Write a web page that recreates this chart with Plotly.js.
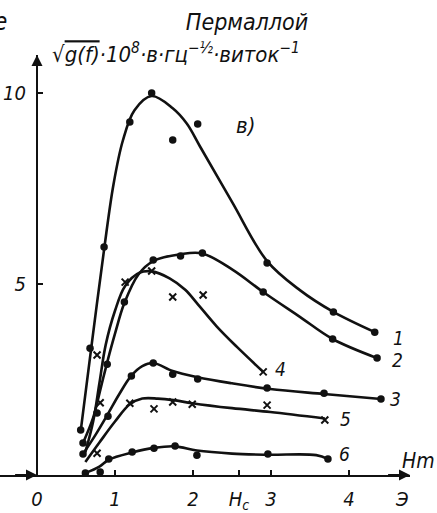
<!DOCTYPE html>
<html>
<head>
<meta charset="utf-8">
<script src="https://cdn.plot.ly/plotly-3.0.1.min.js"></script>
<style>html,body{margin:0;padding:0;background:#fff;}#chart{width:437px;height:513px;}</style>
</head>
<body>
<div id="chart"></div>
<script>
// ---- Data ----
// Fitted curves (smooth lines)
const curve1X = [0.56, 0.70, 0.86, 0.98, 1.1, 1.25, 1.47, 1.74, 1.92, 2.09, 2.5, 2.95, 3.37, 3.8, 4.33];
const curve1Y = [1.15, 3.4, 5.9, 7.6, 8.75, 9.55, 9.92, 9.6, 9.2, 8.6, 7.15, 5.6, 4.84, 4.27, 3.74];
const curve2X = [0.59, 0.72, 0.82, 0.90, 1.0, 1.12, 1.3, 1.49, 1.84, 2.12, 2.51, 2.9, 3.37, 3.79, 4.36];
const curve2Y = [0.84, 1.5, 2.3, 2.95, 3.7, 4.5, 5.25, 5.6, 5.78, 5.8, 5.37, 4.79, 4.14, 3.56, 3.06];
const curve3X = [0.59, 0.75, 0.91, 1.05, 1.21, 1.35, 1.49, 1.74, 2.06, 2.5, 2.99, 3.68, 4.41];
const curve3Y = [0.55, 1.05, 1.6, 2.1, 2.6, 2.85, 2.93, 2.72, 2.56, 2.4, 2.25, 2.12, 1.99];
const curve4X = [0.62, 0.72, 0.80, 0.88, 1.0, 1.13, 1.32, 1.47, 1.7, 1.9, 2.05, 2.3, 2.56, 2.9];
const curve4Y = [0.6, 1.4, 2.4, 3.4, 4.3, 4.95, 5.3, 5.33, 5.15, 4.85, 4.5, 3.9, 3.36, 2.7];
const curve5X = [0.62, 0.8, 1.0, 1.19, 1.35, 1.55, 1.75, 1.99, 2.5, 2.99, 3.69];
const curve5Y = [0.34, 0.85, 1.4, 1.85, 2.0, 2.0, 1.96, 1.88, 1.75, 1.65, 1.48];
const curve6X = [0.62, 0.8, 0.92, 1.22, 1.5, 1.77, 2.05, 2.5, 2.96, 3.58, 3.73];
const curve6Y = [0.05, 0.22, 0.4, 0.59, 0.71, 0.75, 0.64, 0.56, 0.53, 0.52, 0.42];

// Measured points
const pts1X = [0.56, 0.68, 0.86, 1.19, 1.47, 1.74, 2.06, 2.95, 3.80, 4.33];
const pts1Y = [1.18, 3.32, 5.97, 9.24, 10.0, 8.77, 9.19, 5.55, 4.27, 3.74];
const pts2X = [0.59, 0.77, 0.90, 1.12, 1.49, 1.84, 2.12, 2.90, 3.79, 4.36];
const pts2Y = [0.84, 1.62, 2.90, 4.53, 5.63, 5.73, 5.81, 4.79, 3.56, 3.06];
const pts3X = [0.59, 0.91, 1.21, 1.49, 1.74, 2.06, 2.95, 3.68, 4.41];
const pts3Y = [0.55, 1.54, 2.59, 2.93, 2.64, 2.51, 2.28, 2.14, 1.99];
const pts4X = [0.81, 0.77, 1.13, 1.47, 1.74, 2.13, 2.90];
const pts4Y = [1.89, 3.14, 5.05, 5.34, 4.66, 4.71, 2.70];
const pts5X = [0.77, 1.19, 1.50, 1.74, 1.99, 2.95, 3.69];
const pts5Y = [0.57, 1.88, 1.73, 1.91, 1.85, 1.83, 1.44];
const pts6X = [0.62, 0.81, 0.92, 1.22, 1.50, 1.77, 2.05, 2.96, 3.73];
const pts6Y = [0.05, 0.08, 0.42, 0.60, 0.70, 0.76, 0.52, 0.55, 0.42];

// Curve labels
const curveLabels = ["1", "2", "3", "4", "5", "6"];
const labelX = [4.63, 4.62, 4.60, 3.12, 3.95, 3.94];
const labelY = [3.58, 3.0, 1.99, 2.77, 1.47, 0.55];

// Axis ticks
const xTickVals = [0, 1, 2, 2.59, 3, 4];
const xTickText = ["0", "1", "2", "H<sub>c</sub>", "3", "4"];
const yTickVals = [5, 10];
const yTickText = ["5", "10"];

// ---- Chart ----
const FONT = "DejaVu Sans Condensed, DejaVu Sans, sans-serif";
const BLACK = "#111";
const lineStyle = {color: BLACK, width: 2.6, shape: "spline", smoothing: 1};
const dot = {symbol: "circle", size: 7.5, color: BLACK};
const cross = {symbol: "x-thin", size: 7, color: BLACK, line: {width: 2, color: BLACK}};

const curves = [[curve1X, curve1Y], [curve2X, curve2Y], [curve3X, curve3Y], [curve4X, curve4Y], [curve5X, curve5Y], [curve6X, curve6Y]];
const pts = [[pts1X, pts1Y, dot], [pts2X, pts2Y, dot], [pts3X, pts3Y, dot], [pts4X, pts4Y, cross], [pts5X, pts5Y, cross], [pts6X, pts6Y, dot]];

const traces = [];
curves.forEach(c => traces.push({x: c[0], y: c[1], mode: "lines", line: lineStyle, hoverinfo: "skip", cliponaxis: false}));
pts.forEach(p => traces.push({x: p[0], y: p[1], mode: "markers", marker: p[2], hoverinfo: "skip", cliponaxis: false}));

const plotW = 410, plotH = 420, originPx = 37;
const xMin = -originPx / 78, xMax = (plotW - originPx) / 78;
const yMax = (475 - 55) / 38.2;

const annotations = [];
curveLabels.forEach((t, i) => annotations.push({
  x: labelX[i], y: labelY[i], xref: "x", yref: "y", text: t, showarrow: false,
  font: {family: FONT, size: 19, color: BLACK, style: "italic"}
}));
annotations.push(
  {x: 2.67, y: 9.14, xref: "x", yref: "y", text: "в)", showarrow: false,
   font: {family: FONT, size: 22, color: BLACK, style: "italic"}},
  {x: 418 / plotW, y: (475 - 461) / plotH, xref: "paper", yref: "paper", xanchor: "center", yanchor: "middle",
   text: "Hm", showarrow: false, font: {family: FONT, size: 21, color: BLACK, style: "italic"}},
  {x: 402 / plotW, y: (475 - 499) / plotH, xref: "paper", yref: "paper", xanchor: "center", yanchor: "middle",
   text: "Э", showarrow: false, font: {family: FONT, size: 20, color: BLACK, style: "italic"}},
  {x: 50 / plotW, y: (475 - 53) / plotH, xref: "paper", yref: "paper", xanchor: "left", yanchor: "middle",
   text: "√<span style='text-decoration:overline'>g(f)</span>·10<sup>8</sup>·в·гц<sup>−½</sup>·виток<sup>−1</sup>",
   showarrow: false, font: {family: FONT, size: 22, color: BLACK, style: "italic"}},
  {x: 9 / plotW, y: (475 - 22) / plotH, xref: "paper", yref: "paper", xanchor: "right", yanchor: "middle",
   text: "е", showarrow: false, font: {family: FONT, size: 24, color: BLACK, style: "italic"}},
  // axis arrowheads
  {x: 0, y: yMax, ax: 0, ay: yMax - 0.6, xref: "x", yref: "y", axref: "x", ayref: "y",
   text: "", showarrow: true, arrowhead: 2, arrowsize: 1.1, arrowwidth: 2, arrowcolor: BLACK},
  {x: xMax, y: 0, ax: xMax - 0.3, ay: 0, xref: "x", yref: "y", axref: "x", ayref: "y",
   text: "", showarrow: true, arrowhead: 2, arrowsize: 1.1, arrowwidth: 2, arrowcolor: BLACK},
  {x: 0, y: 0, ax: -0.3, ay: 0, xref: "x", yref: "y", axref: "x", ayref: "y",
   text: "", showarrow: true, arrowhead: 2, arrowsize: 1.1, arrowwidth: 2, arrowcolor: BLACK}
);

const layout = {
  width: 437, height: 513,
  margin: {l: 0, r: 437 - plotW, t: 55, b: 38, pad: 0},
  paper_bgcolor: "#fff", plot_bgcolor: "#fff",
  showlegend: false,
  title: {text: "Пермаллой", x: 247 / 437, xref: "container", xanchor: "center",
          y: 1 - 22 / 513, yref: "container", yanchor: "middle",
          font: {family: FONT, size: 23, color: BLACK, style: "italic"}},
  xaxis: {range: [xMin, xMax], showgrid: false, zeroline: false, showline: true, linecolor: BLACK, linewidth: 2,
          tickmode: "array", tickvals: xTickVals, ticktext: xTickText, ticks: "inside", ticklen: 5, tickwidth: 2, tickcolor: BLACK,
          ticklabelstandoff: 5, tickfont: {family: FONT, size: 20, color: BLACK, style: "italic"}, fixedrange: true},
  yaxis: {range: [0, yMax], showgrid: false, zeroline: false, showline: true, linecolor: BLACK, linewidth: 2,
          anchor: "free", position: originPx / plotW,
          tickmode: "array", tickvals: yTickVals, ticktext: yTickText, ticks: "inside", ticklen: 5, tickwidth: 2, tickcolor: BLACK,
          ticklabelstandoff: 6, tickfont: {family: FONT, size: 20, color: BLACK, style: "italic"}, fixedrange: true},
  annotations: annotations
};

Plotly.newPlot("chart", traces, layout, {displayModeBar: false, staticPlot: true});
</script>
</body>
</html>
